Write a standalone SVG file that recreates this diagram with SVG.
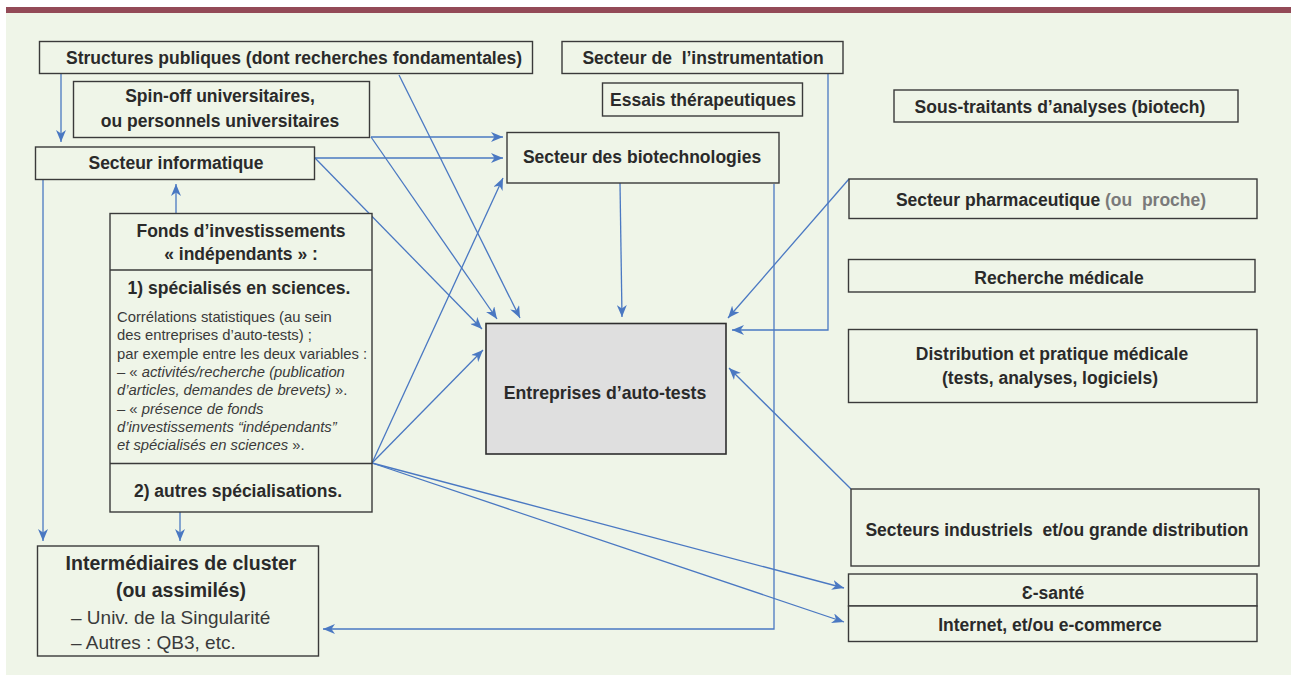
<svg xmlns="http://www.w3.org/2000/svg" width="1291" height="675" viewBox="0 0 1291 675">
<style>
.bg{fill:#EFF5E8}
.box{fill:#EFF5E8;stroke:#3a3a3a;stroke-width:1.4}
.gray{fill:#DFDFDF;stroke:#2e2e2e;stroke-width:1.6}
.t{font-family:"Liberation Sans",Arial,sans-serif;font-weight:bold;font-size:17.5px;fill:#2a2a2a;text-anchor:middle;white-space:pre}
.r{font-family:"Liberation Sans",Arial,sans-serif;font-size:14.8px;fill:#3a3a3a}
.i{font-style:italic}
.c{fill:none;stroke:#4A78C2;stroke-width:1.3;marker-end:url(#ah)}
</style>
<defs>
<marker id="ah" viewBox="0 0 12 10" refX="12" refY="5" markerWidth="12" markerHeight="10" markerUnits="userSpaceOnUse" orient="auto">
<path d="M0,0 L12,5 L0,10 L3.5,5 z" fill="#4A78C2"/>
</marker>
</defs>
<rect x="6" y="12" width="1285" height="663" class="bg"/>
<rect x="6" y="7" width="1285" height="6" fill="#934A57"/>

<g id="connectors">
<line class="c" x1="61" y1="73" x2="61" y2="142"/>
<line class="c" x1="399" y1="75" x2="520" y2="318"/>
<line class="c" x1="371" y1="137" x2="503" y2="137"/>
<line class="c" x1="371" y1="137" x2="497" y2="319"/>
<line class="c" x1="315" y1="158" x2="503" y2="158"/>
<line class="c" x1="315" y1="158" x2="482" y2="329"/>
<line class="c" x1="43" y1="167" x2="43" y2="541"/>
<line class="c" x1="176" y1="213" x2="176" y2="184"/>
<line class="c" x1="372" y1="463" x2="503" y2="178"/>
<line class="c" x1="372" y1="463" x2="483" y2="350"/>
<line class="c" x1="372" y1="463" x2="844" y2="588"/>
<line class="c" x1="372" y1="463" x2="844" y2="622"/>
<line class="c" x1="180" y1="512" x2="180" y2="541"/>
<line class="c" x1="620" y1="183" x2="622" y2="317"/>
<polyline class="c" points="774,184 774,629 323,629"/>
<polyline class="c" points="828,73 828,330 732,330"/>
<line class="c" x1="849" y1="179" x2="728" y2="318"/>
<line class="c" x1="851" y1="489" x2="729" y2="368"/>
</g>

<g id="structures">
<rect class="box" x="39.5" y="41.5" width="493" height="32"/>
<text class="t" x="294" y="63.5">Structures publiques (dont recherches fondamentales)</text>
</g>
<g id="spinoff">
<rect class="box" x="73.5" y="81.5" width="296" height="56"/>
<text class="t" x="220" y="102">Spin-off universitaires,</text>
<text class="t" x="220" y="127">ou personnels universitaires</text>
</g>
<g id="informatique">
<rect class="box" x="35.5" y="147" width="279" height="32.5"/>
<text class="t" x="176" y="168.5">Secteur informatique</text>
</g>
<g id="fonds">
<rect class="box" x="110" y="213.5" width="262" height="298.5"/>
<line x1="110" y1="270" x2="372" y2="270" stroke="#3a3a3a" stroke-width="1.6"/>
<line x1="110" y1="463.5" x2="372" y2="463.5" stroke="#3a3a3a" stroke-width="1.6"/>
<text class="t" x="241" y="237">Fonds d’investissements</text>
<text class="t" x="241" y="260">« indépendants » :</text>
<text class="t" x="239" y="293.5">1) spécialisés en sciences.</text>
<text class="r" x="117" y="321.7">Corrélations statistiques (au sein</text>
<text class="r" x="117" y="340">des entreprises d’auto-tests) ;</text>
<text class="r" x="117" y="358.5">par exemple entre les deux variables :</text>
<text class="r" x="117" y="377">– « <tspan class="i">activités/recherche (publication</tspan></text>
<text class="r" x="117" y="395.3"><tspan class="i">d’articles, demandes de brevets)</tspan> ».</text>
<text class="r" x="117" y="413.7">– « <tspan class="i">présence de fonds</tspan></text>
<text class="r i" x="117" y="432">d’investissements “indépendants”</text>
<text class="r" x="117" y="450.3"><tspan class="i">et spécialisés en sciences</tspan> ».</text>
<text class="t" x="238" y="497">2) autres spécialisations.</text>
</g>
<g id="intermediaires">
<rect class="box" x="37.5" y="546" width="281" height="110"/>
<text class="t" x="181" y="569.5" style="font-size:19.5px">Intermédiaires de cluster</text>
<text class="t" x="181" y="597" style="font-size:19.5px">(ou assimilés)</text>
<text class="r" x="71" y="624" style="font-size:19px">– Univ. de la Singularité</text>
<text class="r" x="71" y="648.5" style="font-size:19px">– Autres : QB3, etc.</text>
</g>
<g id="instrumentation">
<rect class="box" x="562" y="41.5" width="281" height="32"/>
<text class="t" x="703" y="63.5">Secteur de  l’instrumentation</text>
</g>
<g id="essais">
<rect class="box" x="602.5" y="83" width="200" height="33"/>
<text class="t" x="703" y="106">Essais thérapeutiques</text>
</g>
<g id="soustraitants">
<rect class="box" x="894" y="90" width="344" height="32"/>
<text class="t" x="1060" y="113">Sous-traitants d’analyses (biotech)</text>
</g>
<g id="biotech">
<rect class="box" x="507" y="132.5" width="272" height="50.5"/>
<text class="t" x="642" y="162.5">Secteur des biotechnologies</text>
</g>
<g id="pharma">
<rect class="box" x="849" y="179" width="408" height="39.5"/>
<text class="t" x="1051" y="206">Secteur pharmaceutique <tspan fill="#7a7a7a">(ou  proche)</tspan></text>
</g>
<g id="recherche">
<rect class="box" x="848.5" y="259.5" width="406.5" height="32.5"/>
<text class="t" x="1059" y="283.5">Recherche médicale</text>
</g>
<g id="distribution">
<rect class="box" x="848.5" y="329.5" width="408.5" height="73"/>
<text class="t" x="1052" y="359.5">Distribution et pratique médicale</text>
<text class="t" x="1050" y="383.5">(tests, analyses, logiciels)</text>
</g>
<g id="entreprises">
<rect class="gray" x="486" y="323.5" width="240" height="130.5"/>
<text class="t" x="605" y="398.5" style="font-size:17.7px">Entreprises d’auto-tests</text>
</g>
<g id="industriels">
<rect class="box" x="851" y="489" width="408" height="77"/>
<text class="t" x="1057" y="536">Secteurs industriels  et/ou grande distribution</text>
</g>
<g id="esante">
<rect class="box" x="848.5" y="574" width="408.5" height="32"/>
<text class="t" x="1053" y="598.5">Ɛ-santé</text>
</g>
<g id="internet">
<rect class="box" x="848.5" y="606" width="408.5" height="35.5"/>
<text class="t" x="1050" y="631">Internet, et/ou e-commerce</text>
</g>
</svg>
